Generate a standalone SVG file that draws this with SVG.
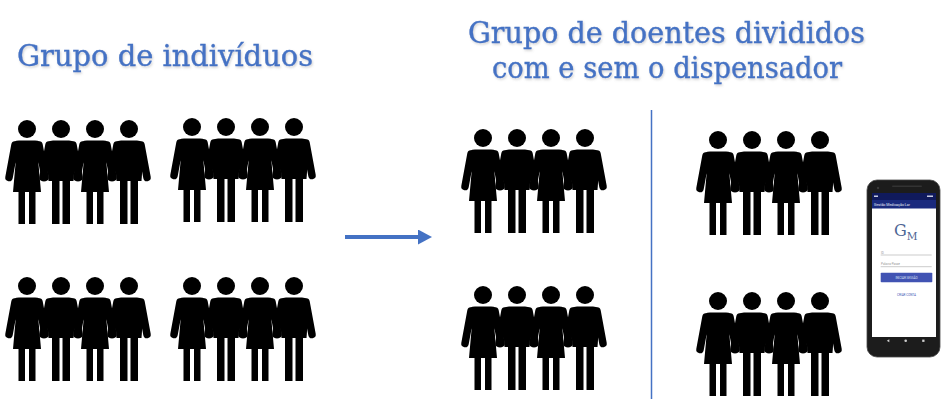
<svg xmlns="http://www.w3.org/2000/svg" width="942" height="399" viewBox="0 0 942 399">
  <style>
    .title { font-family: "DejaVu Serif", "Liberation Serif", serif; font-size: 29px; fill: #4472C4; stroke: #4472C4; stroke-width: 0.35; filter: url(#soft-shadow); }
    .fig { fill: #000; }
    .arm { stroke: #000; stroke-width: 7.5; stroke-linecap: round; fill: none; }
    .link { stroke: #4472C4; stroke-width: 4; fill: none; }
    .divider { stroke: #4472C4; stroke-width: 1.5; }
    .ui { font-family: "Roboto", "Liberation Sans", sans-serif; }
  </style>
  <defs>
    <filter id="soft-shadow" x="-5%" y="-20%" width="110%" height="150%">
      <feDropShadow dx="1" dy="1.5" stdDeviation="0.8" flood-color="#7f7f7f" flood-opacity="0.35"/>
    </filter>
    <marker id="arrowhead" viewBox="0 0 14 15" markerWidth="14" markerHeight="15" markerUnits="userSpaceOnUse" refX="0" refY="7.5" orient="auto">
      <path d="M0,0 L14,7.5 L0,15 Z" fill="#4472C4"/>
    </marker>
    <!-- pictogram figures, head centre at the origin -->
    <g id="woman">
      <circle class="fig" cx="0" cy="0" r="9"/>
      <path class="fig" d="M -8 11.5 H 8 Q 14 11.5 15 17 L 15 21 L 11.5 35 L 14 63 H -14 L -11.5 35 L -15 21 L -15 17 Q -14 11.5 -8 11.5 Z"/>
      <line class="arm" x1="-12" y1="16" x2="-18" y2="48.5"/>
      <line class="arm" x1="12" y1="16" x2="18" y2="48.5"/>
      <rect class="fig" x="-8.5" y="60" width="6.5" height="35"/>
      <rect class="fig" x="2" y="60" width="6.5" height="35"/>
    </g>
    <g id="man">
      <circle class="fig" cx="0" cy="0" r="9"/>
      <path class="fig" d="M -8 11.5 H 8 Q 14.5 11.5 15 18 L 12.5 52 H -12.5 L -15 18 Q -14.5 11.5 -8 11.5 Z"/>
      <line class="arm" x1="-12" y1="16" x2="-18" y2="48.5"/>
      <line class="arm" x1="12" y1="16" x2="18" y2="48.5"/>
      <rect class="fig" x="-9" y="50" width="7.5" height="45"/>
      <rect class="fig" x="1.5" y="50" width="7.5" height="45"/>
    </g>
    <g id="crowd">
      <use href="#woman" x="0" y="0"/>
      <use href="#man" x="34" y="0"/>
      <use href="#woman" x="68" y="0"/>
      <use href="#man" x="102" y="0"/>
    </g>
  </defs>

  <rect width="942" height="399" fill="#fff"/>

  <!-- headings -->
  <g id="title-left">
    <text class="title" x="17" y="66" textLength="296" lengthAdjust="spacingAndGlyphs">Grupo de indivíduos</text>
  </g>
  <g id="title-right">
    <text class="title" x="468" y="43" textLength="397" lengthAdjust="spacingAndGlyphs">Grupo de doentes divididos</text>
    <text class="title" x="492" y="78" textLength="350" lengthAdjust="spacingAndGlyphs">com e sem o dispensador</text>
  </g>

  <!-- population before the split -->
  <g id="group-1" transform="translate(27,129)"><use href="#crowd"/></g>
  <g id="group-2" transform="translate(192,127)"><use href="#crowd"/></g>
  <g id="group-3" transform="translate(27,286)"><use href="#crowd"/></g>
  <g id="group-4" transform="translate(192,286)"><use href="#crowd"/></g>

  <!-- patients without the dispenser -->
  <g id="group-5" transform="translate(483,138)"><use href="#crowd"/></g>
  <g id="group-6" transform="translate(483,295)"><use href="#crowd"/></g>

  <!-- patients with the dispenser -->
  <g id="group-7" transform="translate(718,140)"><use href="#crowd"/></g>
  <g id="group-8" transform="translate(718,301)"><use href="#crowd"/></g>

  <line id="divider" class="divider" x1="651.5" y1="110" x2="651.5" y2="399"/>

  <g id="connectors">
    <line class="link" x1="345" y1="237" x2="418" y2="237" marker-end="url(#arrowhead)"/>
  </g>

  <!-- phone with the app login screen -->
  <g id="phone">
    <rect x="867" y="180" width="73" height="177" rx="10" fill="#1c1c1c" stroke="#4a4a4a" stroke-width="0.8"/>
    <circle cx="878" cy="188" r="1.2" fill="#3a3a3a"/>
    <rect x="892" y="185.5" width="30" height="1.6" rx="0.8" fill="#333"/>
    <rect x="872" y="193" width="64" height="144" fill="#fff"/>
    <rect x="872" y="193" width="64" height="7" fill="#101a5c"/>
    <rect x="872" y="200" width="64" height="8.5" fill="#1a2a7e"/>
    <rect x="874" y="195.5" width="4" height="1.5" fill="#c8cbe0"/>
    <rect x="927" y="195.5" width="6" height="1.5" fill="#c8cbe0"/>
    <text class="ui" x="874" y="205.6" font-size="3.6" fill="#e8eaf6">Gestão Medicação Lar</text>
    <text x="894" y="236" font-family="'DejaVu Serif', 'Liberation Serif', serif" font-size="16" fill="#4d6694">G<tspan dx="0" dy="4" font-size="10.5">M</tspan></text>
    <text class="ui" x="881" y="253.5" font-size="3" fill="#9a9a9a">ID</text>
    <line x1="880.7" y1="255" x2="931.7" y2="255" stroke="#a8a8a8" stroke-width="0.6"/>
    <text class="ui" x="881" y="264.8" font-size="3" fill="#9a9a9a">Palavra-Passe</text>
    <line x1="880.7" y1="266.7" x2="931.7" y2="266.7" stroke="#a8a8a8" stroke-width="0.6"/>
    <rect x="880.7" y="272.7" width="51.6" height="9.6" rx="0.8" fill="#4153b3"/>
    <text class="ui" x="906.5" y="278.6" font-size="3" fill="#dfe3f5" text-anchor="middle">INICIAR SESSÃO</text>
    <text class="ui" x="906.5" y="296" font-size="3" fill="#4153b3" text-anchor="middle">CRIAR CONTA</text>
    <polygon points="889.3,339.2 889.3,342.2 886.8,340.7" fill="#cfcfcf"/>
    <circle cx="905.7" cy="340.7" r="1.3" fill="#cfcfcf"/>
    <rect x="922.2" y="339.6" width="2.3" height="2.3" fill="#cfcfcf"/>
  </g>
</svg>
